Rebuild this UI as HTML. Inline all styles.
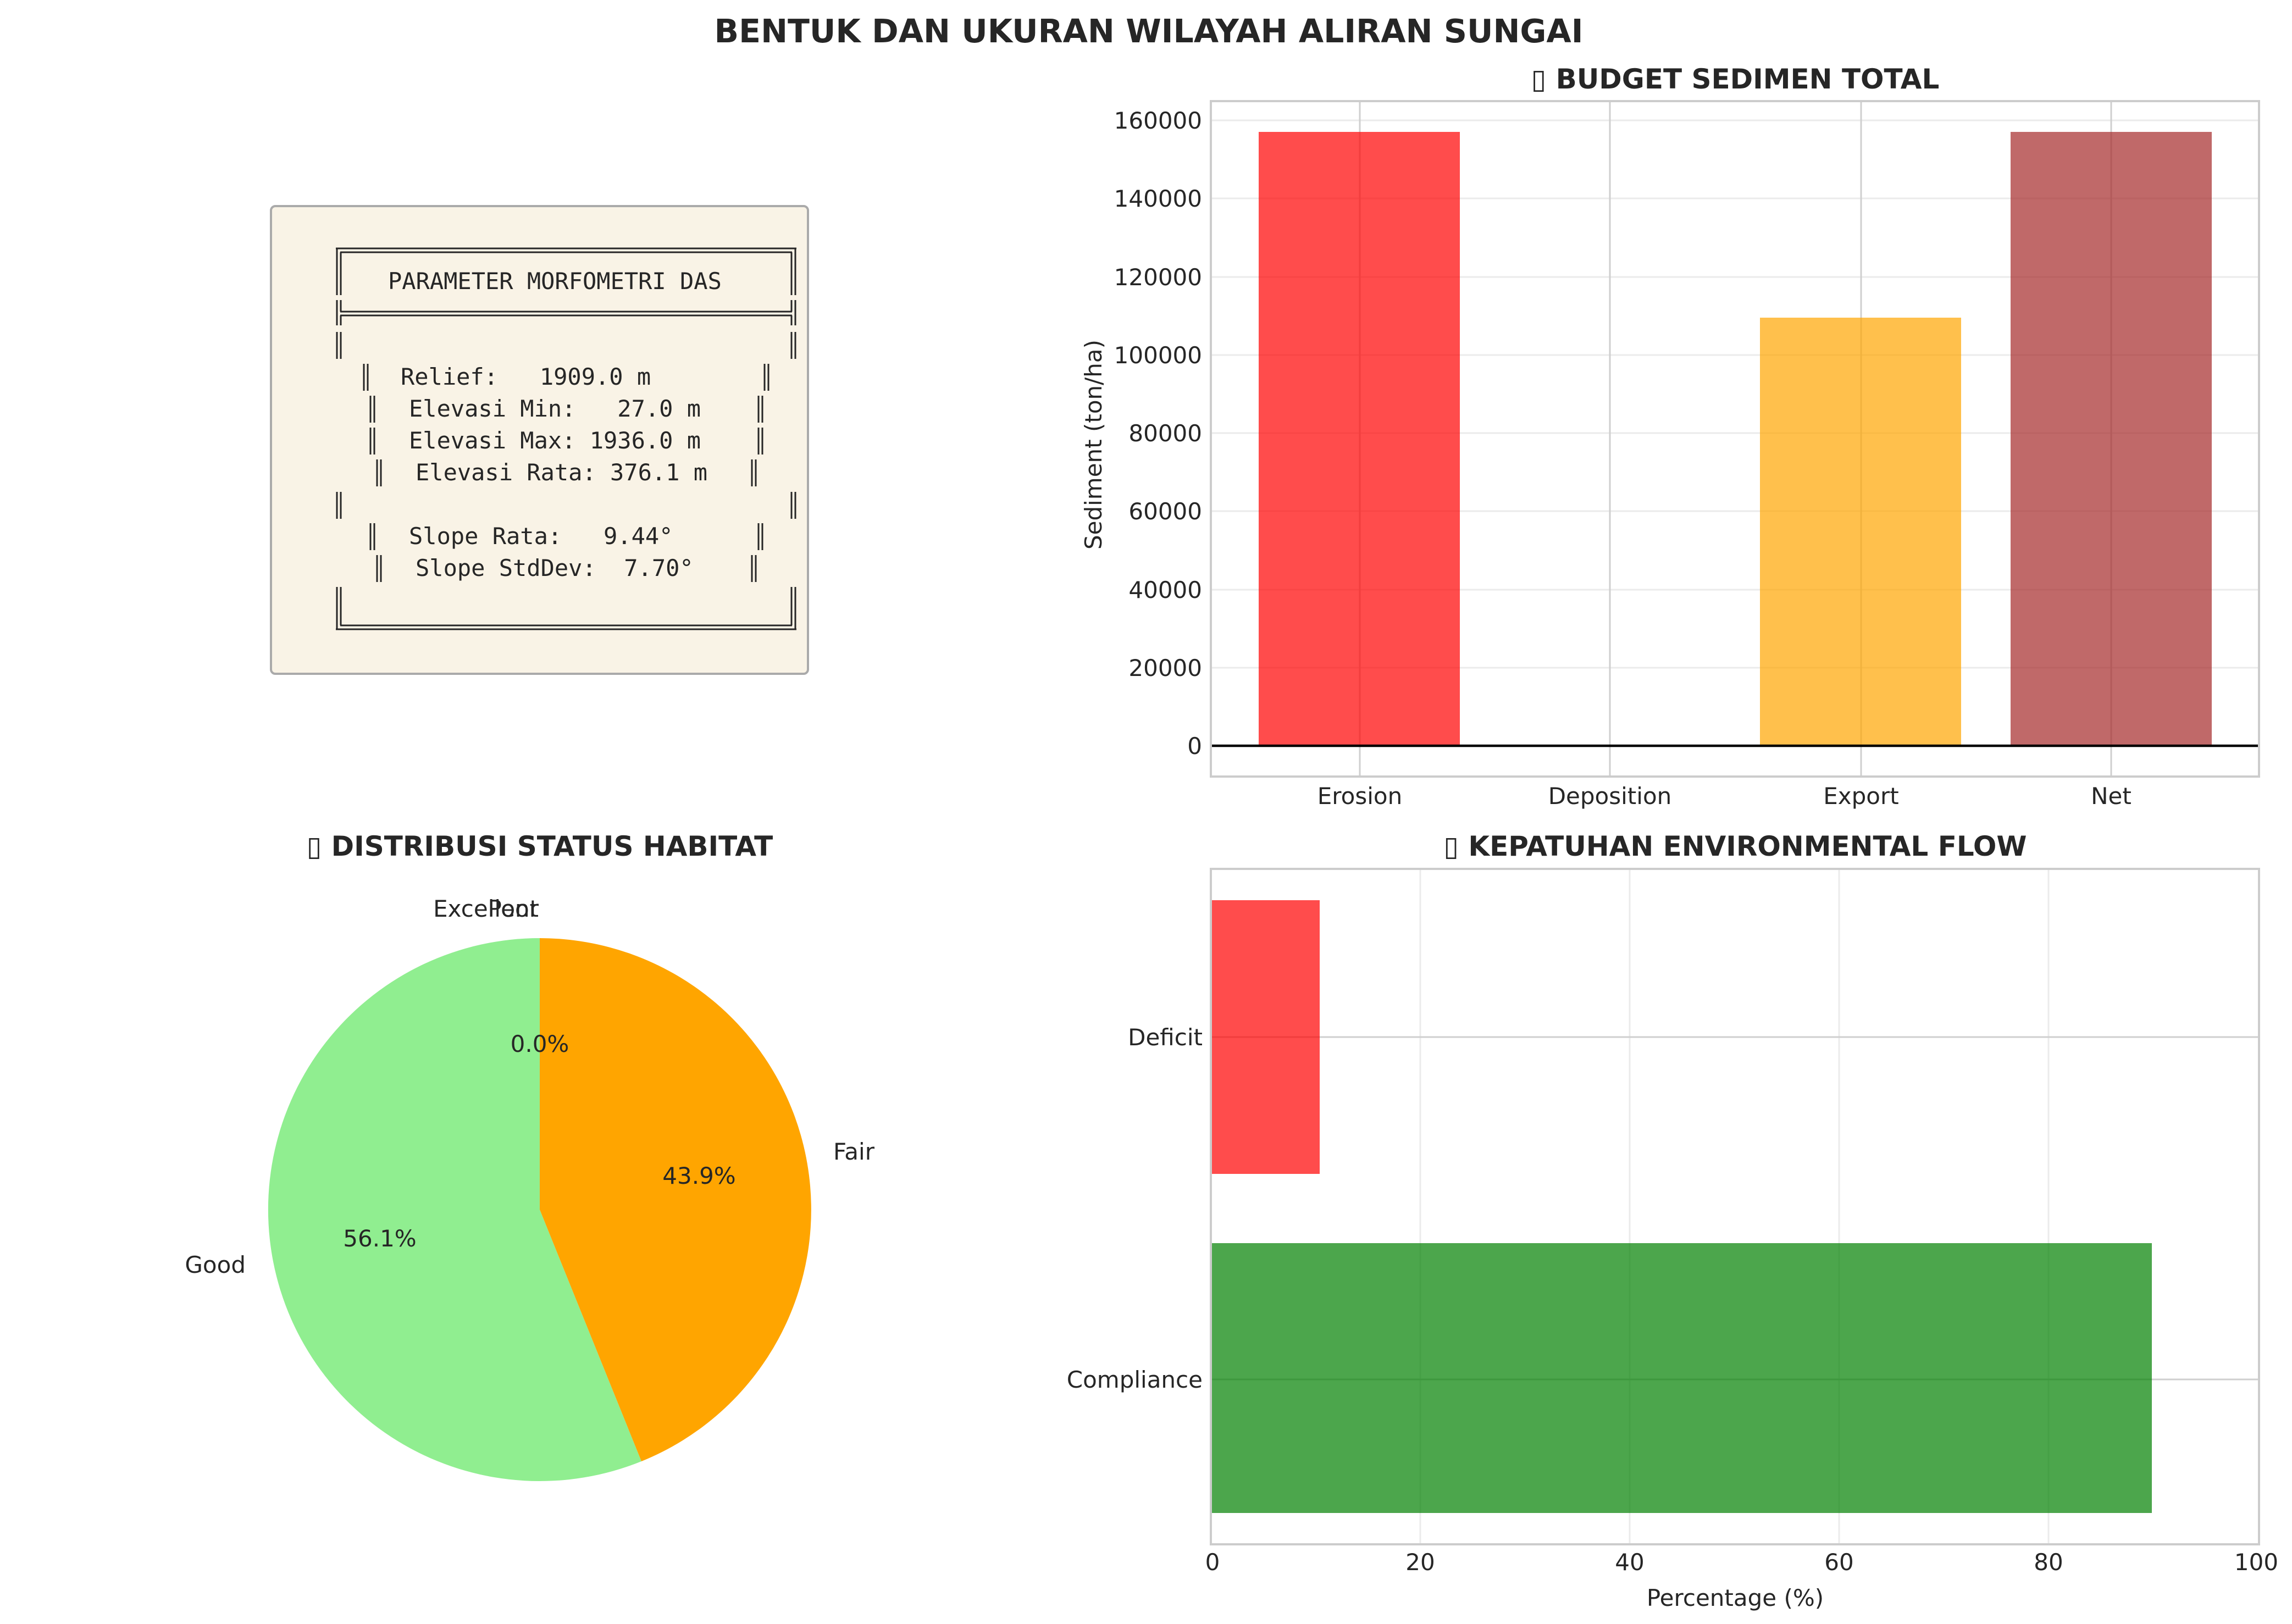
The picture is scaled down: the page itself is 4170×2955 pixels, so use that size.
<!DOCTYPE html>
<html><head><meta charset="utf-8"><style>
html,body{margin:0;padding:0;background:#fff;}
svg{display:block;}
text{font-family:"DejaVu Sans","Liberation Sans",sans-serif;fill:#262626;}
.mono{font-family:"DejaVu Sans Mono","Liberation Mono",monospace;font-size:42px;white-space:pre;}
.t{font-size:42px;}
.b{font-weight:bold;font-size:50px;}
</style></head><body>
<svg width="4170" height="2955" viewBox="0 0 4170 2955" xmlns="http://www.w3.org/2000/svg">
<rect width="4170" height="2955" fill="#fff"/>
<text x="2090" y="77" text-anchor="middle" font-weight="bold" font-size="58.5">BENTUK DAN UKURAN WILAYAH ALIRAN SUNGAI</text>

<!-- Parameter box -->
<rect x="493" y="375" width="977" height="851" rx="8" fill="#f9f3e6" stroke="#aaa" stroke-width="4"/>
<g stroke="#262626" stroke-width="3" fill="none">
<line x1="611" y1="452" x2="1449" y2="452"/><line x1="619" y1="459" x2="1441" y2="459"/>
<line x1="619" y1="567" x2="1441" y2="567"/><line x1="619" y1="574" x2="1441" y2="574"/>
<line x1="619" y1="1138" x2="1441" y2="1138"/><line x1="611" y1="1145" x2="1449" y2="1145"/>
<path d="M613 452V537M620 459V537M613 546V592M620 546V567M620 574V592M613 604V653M620 604V653M613 895V944M620 895V944M613 1068V1145M620 1068V1138"/>
<path d="M1447 452V537M1440 459V537M1447 546V592M1440 546V567M1440 574V592M1447 604V653M1440 604V653M1447 895V944M1440 895V944M1447 1068V1145M1440 1068V1138"/>
<path d="M662 662V711M669 662V711M1391 662V711M1398 662V711"/>
<path d="M674 720V769M681 720V769M1380 720V769M1387 720V769"/>
<path d="M674 778V827M681 778V827M1380 778V827M1387 778V827"/>
<path d="M686 836V885M693 836V885M1368 836V885M1375 836V885"/>
<path d="M674 952V1001M681 952V1001M1380 952V1001M1387 952V1001"/>
<path d="M686 1010V1059M693 1010V1059M1368 1010V1059M1375 1010V1059"/>
</g>
<text class="mono" x="706" y="526">PARAMETER MORFOMETRI DAS</text>
<text class="mono" x="729" y="700">Relief:   1909.0 m</text>
<text class="mono" x="744" y="758">Elevasi Min:   27.0 m</text>
<text class="mono" x="744" y="816">Elevasi Max: 1936.0 m</text>
<text class="mono" x="756" y="874">Elevasi Rata: 376.1 m</text>
<text class="mono" x="744" y="990">Slope Rata:   9.44°</text>
<text class="mono" x="756" y="1048">Slope StdDev:  7.70°</text>

<!-- Bar chart -->
<text class="b" x="3157" y="161" text-anchor="middle">▯ BUDGET SEDIMEN TOTAL</text>
<g stroke="#ebebeb" stroke-width="3">
<line x1="2203" x2="4110" y1="219" y2="219"/><line x1="2203" x2="4110" y1="361" y2="361"/>
<line x1="2203" x2="4110" y1="504" y2="504"/><line x1="2203" x2="4110" y1="646" y2="646"/>
<line x1="2203" x2="4110" y1="788" y2="788"/><line x1="2203" x2="4110" y1="930" y2="930"/>
<line x1="2203" x2="4110" y1="1073" y2="1073"/><line x1="2203" x2="4110" y1="1215" y2="1215"/>
</g>
<g stroke="#cfcfcf" stroke-width="3">
<line x1="2474" x2="2474" y1="184" y2="1413"/><line x1="2929" x2="2929" y1="184" y2="1413"/>
<line x1="3386" x2="3386" y1="184" y2="1413"/><line x1="3841" x2="3841" y1="184" y2="1413"/>
</g>
<rect x="2290" y="240" width="366" height="1117" fill="#ff0000" fill-opacity="0.7"/>
<rect x="3202" y="578" width="366" height="779" fill="#ffa500" fill-opacity="0.7"/>
<rect x="3658" y="240" width="366" height="1117" fill="#a52a2a" fill-opacity="0.7"/>
<line x1="2203" x2="4110" y1="1357" y2="1357" stroke="#000" stroke-width="4.5"/>
<rect x="2203" y="184" width="1907" height="1229" fill="none" stroke="#ccc" stroke-width="4"/>
<g text-anchor="end">
<text class="t" x="2187" y="1372">0</text><text class="t" x="2187" y="1230">20000</text>
<text class="t" x="2187" y="1088">40000</text><text class="t" x="2187" y="945">60000</text>
<text class="t" x="2187" y="803">80000</text><text class="t" x="2187" y="661">100000</text>
<text class="t" x="2187" y="519">120000</text><text class="t" x="2187" y="376">140000</text>
<text class="t" x="2187" y="234">160000</text>
</g>
<g text-anchor="middle">
<text class="t" x="2474" y="1463">Erosion</text><text class="t" x="2929" y="1463">Deposition</text>
<text class="t" x="3386" y="1463">Export</text><text class="t" x="3841" y="1463">Net</text>
</g>
<text class="t" text-anchor="middle" transform="translate(2004,809) rotate(-90)">Sediment (ton/ha)</text>

<!-- Pie -->
<text class="b" x="982" y="1557" text-anchor="middle">▯ DISTRIBUSI STATUS HABITAT</text>
<path d="M982 2201 L982 1707 A494 494 0 1 0 1167 2659 Z" fill="#90ee90"/>
<path d="M982 2201 L1167 2659 A494 494 0 0 0 982 1707 Z" fill="#ffa500"/>
<text class="t" x="980" y="1668" text-anchor="end">Excellent</text>
<text class="t" x="980" y="1668" text-anchor="end">Poor</text>
<text class="t" x="1516" y="2110">Fair</text>
<text class="t" x="447" y="2316" text-anchor="end">Good</text>
<text class="t" x="982" y="1914" text-anchor="middle">0.0%</text>
<text class="t" x="1272" y="2154" text-anchor="middle">43.9%</text>
<text class="t" x="691" y="2268" text-anchor="middle">56.1%</text>

<!-- Hbar -->
<text class="b" x="3157" y="1557" text-anchor="middle">▯ KEPATUHAN ENVIRONMENTAL FLOW</text>
<g stroke="#ebebeb" stroke-width="3">
<line x1="2584" x2="2584" y1="1581" y2="2810"/><line x1="2965" x2="2965" y1="1581" y2="2810"/>
<line x1="3346" x2="3346" y1="1581" y2="2810"/><line x1="3727" x2="3727" y1="1581" y2="2810"/>
</g>
<g stroke="#cfcfcf" stroke-width="3">
<line x1="2203" x2="4110" y1="1887" y2="1887"/><line x1="2203" x2="4110" y1="2510" y2="2510"/>
</g>
<rect x="2203" y="1638" width="198" height="498" fill="#ff0000" fill-opacity="0.7"/>
<rect x="2203" y="2262" width="1712" height="491" fill="#008000" fill-opacity="0.7"/>
<rect x="2203" y="1581" width="1907" height="1229" fill="none" stroke="#ccc" stroke-width="4"/>
<text class="t" x="2188" y="1902" text-anchor="end">Deficit</text>
<text class="t" x="2188" y="2525" text-anchor="end">Compliance</text>
<g text-anchor="middle">
<text class="t" x="2206" y="2857">0</text><text class="t" x="2584" y="2857">20</text>
<text class="t" x="2965" y="2857">40</text><text class="t" x="3346" y="2857">60</text>
<text class="t" x="3727" y="2857">80</text><text class="t" x="4105" y="2857">100</text>
<text class="t" x="3157" y="2922">Percentage (%)</text>
</g>
</svg>
</body></html>
